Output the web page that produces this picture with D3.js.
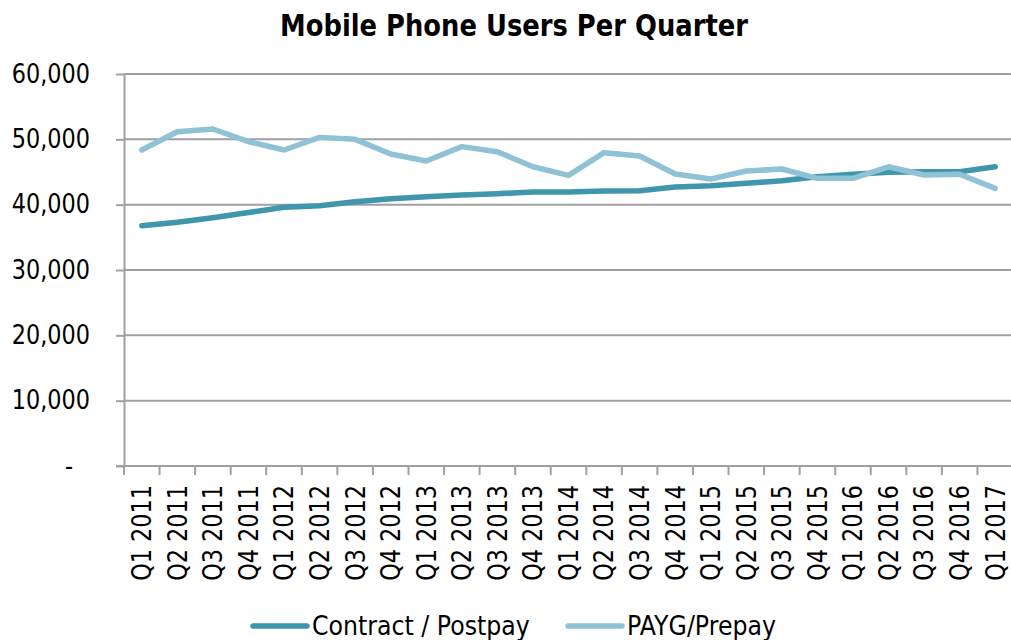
<!DOCTYPE html>
<html>
<head>
<meta charset="utf-8">
<script src="https://cdnjs.cloudflare.com/ajax/libs/d3/7.8.5/d3.min.js"></script>
<style>
  body { margin: 0; background: #fff; }
  text { font-family: "DejaVu Sans", Verdana, sans-serif; fill: #000; }
</style>
</head>
<body>
<div id="chart"></div>
<script>
var quarters = ["Q1 2011", "Q2 2011", "Q3 2011", "Q4 2011",
                "Q1 2012", "Q2 2012", "Q3 2012", "Q4 2012",
                "Q1 2013", "Q2 2013", "Q3 2013", "Q4 2013",
                "Q1 2014", "Q2 2014", "Q3 2014", "Q4 2014",
                "Q1 2015", "Q2 2015", "Q3 2015", "Q4 2015",
                "Q1 2016", "Q2 2016", "Q3 2016", "Q4 2016",
                "Q1 2017"];
var contract = [36780, 37300, 38000, 38800, 39600, 39850, 40460, 40900,
                41200, 41480, 41680, 41940, 41940, 42100, 42140, 42700,
                42880, 43270, 43670, 44280, 44650, 44950, 45050, 45050,
                45800];
var payg = [48370, 51170, 51580, 49650, 48370, 50300, 50000, 47760,
            46690, 48880, 48100, 45800, 44490, 47960, 47450, 44700,
            43930, 45150, 45460, 44030, 44030, 45800, 44540, 44650,
            42500];
var seriesNames = ["Contract / Postpay", "PAYG/Prepay"];
var yTicks = [0, 10000, 20000, 30000, 40000, 50000, 60000];

!(function (d3) {
  var width = 1011, height = 640;
  var left = 124, right = 1013, top = 74, bottom = 466;
  var colors = ["#3f96ad", "#8fc2d4"];
  var gridColor = "#a0a0a0";

  var svg = d3.select("#chart").append("svg")
      .attr("width", width)
      .attr("height", height);

  // squeeze DejaVu a bit so it takes Tahoma-like widths
  function condense(sel, k) {
    sel.each(function () {
      var w = this.getComputedTextLength();
      d3.select(this).attr("textLength", w * k).attr("lengthAdjust", "spacingAndGlyphs");
    });
  }

  var x = d3.scaleBand()
      .domain(quarters)
      .range([left, right])
      .padding(0);
  var y = d3.scaleLinear()
      .domain([0, 60000])
      .range([bottom, top]);

  // gridlines
  svg.append("g").selectAll("line")
      .data(yTicks.filter(function (d) { return d > 0; }))
    .enter().append("line")
      .attr("x1", left)
      .attr("x2", width)
      .attr("y1", function (d) { return y(d); })
      .attr("y2", function (d) { return y(d); })
      .attr("stroke", gridColor)
      .attr("stroke-width", 2);

  // y axis
  var yAxis = svg.append("g")
      .attr("transform", "translate(" + left + ",0)")
      .call(d3.axisLeft(y)
        .tickValues(yTicks)
        .tickSize(8)
        .tickSizeOuter(0)
        .tickPadding(26)
        .tickFormat(function (d) { return d === 0 ? "-" : d3.format(",")(d); }));
  yAxis.select(".domain").attr("stroke", gridColor).attr("stroke-width", 2);
  yAxis.selectAll(".tick line").attr("stroke", gridColor).attr("stroke-width", 2);
  yAxis.selectAll(".tick text")
      .style("font-size", "26px")
      .attr("fill", "#000")
      .call(condense, 0.86);
  yAxis.selectAll(".tick text").filter(function (d) { return d === 0; })
      .attr("dx", -17);

  // x axis
  svg.append("line")
      .attr("x1", left - 8)
      .attr("x2", width)
      .attr("y1", y(0))
      .attr("y2", y(0))
      .attr("stroke", gridColor)
      .attr("stroke-width", 2);

  svg.append("g").selectAll("line")
      .data(quarters)
    .enter().append("line")
      .attr("x1", function (d) { return x(d); })
      .attr("x2", function (d) { return x(d); })
      .attr("y1", y(0))
      .attr("y2", y(0) + 9)
      .attr("stroke", gridColor)
      .attr("stroke-width", 2);

  var xAxis = svg.append("g")
      .attr("transform", "translate(0," + y(0) + ")")
      .call(d3.axisBottom(x).tickSize(0).tickSizeOuter(0));
  xAxis.select(".domain").remove();
  xAxis.selectAll(".tick text")
      .style("font-size", "26px")
      .attr("fill", "#000")
      .attr("transform", "rotate(-90)")
      .attr("x", -19)
      .attr("y", 0)
      .attr("dy", "0.36em")
      .style("text-anchor", "end")
      .call(condense, 0.86);

  // lines
  var line = d3.line()
      .x(function (d, i) { return x(quarters[i]) + x.bandwidth() / 2; })
      .y(function (d) { return y(d); });

  [contract, payg].forEach(function (s, i) {
    svg.append("path")
        .datum(s)
        .attr("fill", "none")
        .attr("stroke", colors[i])
        .attr("stroke-width", 5.5)
        .attr("stroke-linejoin", "round")
        .attr("stroke-linecap", "round")
        .attr("d", line);
  });

  // title
  svg.append("text")
      .attr("x", 514)
      .attr("y", 36)
      .attr("text-anchor", "middle")
      .style("font-size", "31px")
      .style("font-weight", "bold")
      .attr("textLength", 468)
      .attr("lengthAdjust", "spacingAndGlyphs")
      .text("Mobile Phone Users Per Quarter");

  // legend
  var legendX = [253, 568];
  var legend = svg.append("g").selectAll("g")
      .data(seriesNames)
    .enter().append("g")
      .attr("transform", function (d, i) { return "translate(" + legendX[i] + ",626)"; });
  legend.append("line")
      .attr("x1", 0)
      .attr("x2", 54)
      .attr("stroke", function (d, i) { return colors[i]; })
      .attr("stroke-width", 5.5)
      .attr("stroke-linecap", "round");
  legend.append("text")
      .attr("x", 59)
      .attr("y", 9)
      .style("font-size", "26px")
      .text(function (d) { return d; })
      .call(condense, 0.91);

})(d3);
</script>
</body>
</html>
